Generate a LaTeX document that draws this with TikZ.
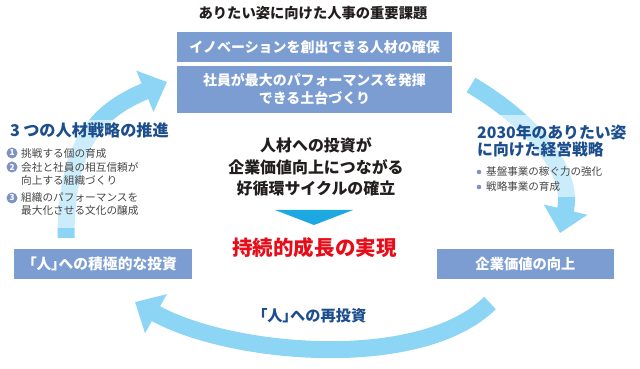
\documentclass[tikz,border=0pt]{standalone}
\usepackage{fontspec}
\setmainfont{Noto Sans CJK JP}
\usetikzlibrary{arrows.meta, positioning}

\definecolor{boxblue}{RGB}{123,157,210}
\definecolor{cycleblue}{RGB}{141,213,245}
\definecolor{downblue}{RGB}{30,168,225}
\definecolor{headblue}{RGB}{28,78,142}
\definecolor{bodygray}{RGB}{70,70,70}
\definecolor{darktext}{RGB}{35,30,30}
\definecolor{goalred}{RGB}{232,12,24}
\definecolor{markblue}{RGB}{125,148,195}

\newcommand{\jpsize}[2]{\fontsize{#1}{#2}\selectfont}
% 括弧はプロポーショナル幅
\newcommand{\kakko}[1]{{\addfontfeature{RawFeature=+palt}「}#1{\addfontfeature{RawFeature=+palt}」}}

\tikzset{
  issue/.style={fill=boxblue, text=white, align=center, inner sep=0pt,
    font=\bfseries\jpsize{11.9}{15.3}},
  cyclearrow/.style={draw=cycleblue, line width=0.51cm,
    -{Triangle[width=1.3cm, length=0.72cm]}},
  itemtext/.style={anchor=west, align=left, inner sep=0pt, text=bodygray,
    font=\jpsize{9.1}{11.6}},
  nummark/.style={circle, fill=markblue, text=white, inner sep=0pt,
    minimum size=0.33cm, font=\bfseries\jpsize{7}{7}},
}

\begin{document}
\begin{tikzpicture}[x=0.03cm, y=-0.03cm]
    \useasboundingbox (0,0) rectangle (640,369);

    % --- 循環の矢印 ---
    \coordinate (ltail) at (66,238);
    \coordinate (lhead) at (167,82);
    \coordinate (rtail) at (471,85);
    \coordinate (rhead) at (560,233);
    \coordinate (btail) at (490,303);
    \coordinate (bhead) at (135,302);
    \draw[cyclearrow] (ltail) .. controls (66,140) and (100,110) .. (lhead);
    \draw[cyclearrow] (rtail) .. controls (530,120) and (575,170) .. (rhead);
    \draw[cyclearrow] (btail) .. controls (420,372) and (230,355) .. (bhead);

    % 文字の背後を薄くする
    \fill[white, opacity=0.55] (0,120) rectangle (170,228);
    \fill[white, opacity=0.55] (470,115) rectangle (640,197);

    % --- 上部：重要課題 ---
    \node[font=\bfseries\jpsize{12.2}{14}, text=darktext] (title) at (313,13)
        {ありたい姿に向けた人事の重要課題};
    \node[issue, minimum width=8.25cm, minimum height=0.9cm] (issue1) at (314.5,47)
        {イノベーションを創出できる人材の確保};
    \node[issue, minimum width=8.25cm, minimum height=1.41cm] (issue2) at (314.5,89.5)
        {社員が最大のパフォーマンスを発揮\\できる土台づくり};

    % --- 中央 ---
    \node[font=\bfseries\jpsize{13.6}{18.3}, text=darktext, align=center] (cycle) at (316,167)
        {人材への投資が\\企業価値向上につながる\\好循環サイクルの確立};
    \coordinate (tl) at (275,210);
    \coordinate (tr) at (353,210);
    \coordinate (tb) at (314,225);
    \fill[downblue] (tl) -- (tr) -- (tb) -- cycle;
    \node[font=\bfseries\jpsize{17.5}{20}, text=goalred] (goal) at (314.5,248)
        {持続的成長の実現};

    % --- 左：人材戦略 ---
    \node[anchor=west, inner sep=0pt, font=\bfseries\jpsize{13.8}{16}, text=headblue]
        (lhd) at (10,130) {3\hspace{0.2em}つの人材戦略の推進};
    \node[nummark] (n1) at (12,153) {1};
    \node[nummark] (n2) at (12,167) {2};
    \node[nummark] (n3) at (12,198) {3};
    \node[itemtext] (i1) at (21,153) {挑戦する個の育成};
    \node[itemtext] (i2) at (21,174) {会社と社員の相互信頼が\\向上する組織づくり};
    \node[itemtext] (i3) at (21,204) {組織のパフォーマンスを\\最大化させる文化の醸成};

    % --- 右：経営戦略 ---
    \node[anchor=west, align=left, inner sep=0pt, font=\bfseries\jpsize{13.5}{15.3},
        text=headblue] (rhd) at (477,141) {2030年のありたい姿\\に向けた経営戦略};
    \fill[markblue] (479,172) circle (2.3);
    \fill[markblue] (479,187) circle (2.3);
    \node[itemtext, font=\jpsize{9}{11}] (s1) at (486,172) {基盤事業の稼ぐ力の強化};
    \node[itemtext, font=\jpsize{9}{11}] (s2) at (486,187) {戦略事業の育成};

    % --- 下部 ---
    \node[issue, font=\bfseries\jpsize{12.6}{14}, minimum width=5.34cm, minimum height=0.9cm]
        (invest) at (103,264) {\kakko{人}への積極的な投資};
    \node[issue, font=\bfseries\jpsize{12.2}{14}, minimum width=5.31cm, minimum height=0.9cm]
        (value) at (525.5,264) {企業価値の向上};
    \node[font=\bfseries\jpsize{13}{15}, text=headblue] (reinvest) at (313,316)
        {\kakko{人}への再投資};

\end{tikzpicture}
\end{document}
